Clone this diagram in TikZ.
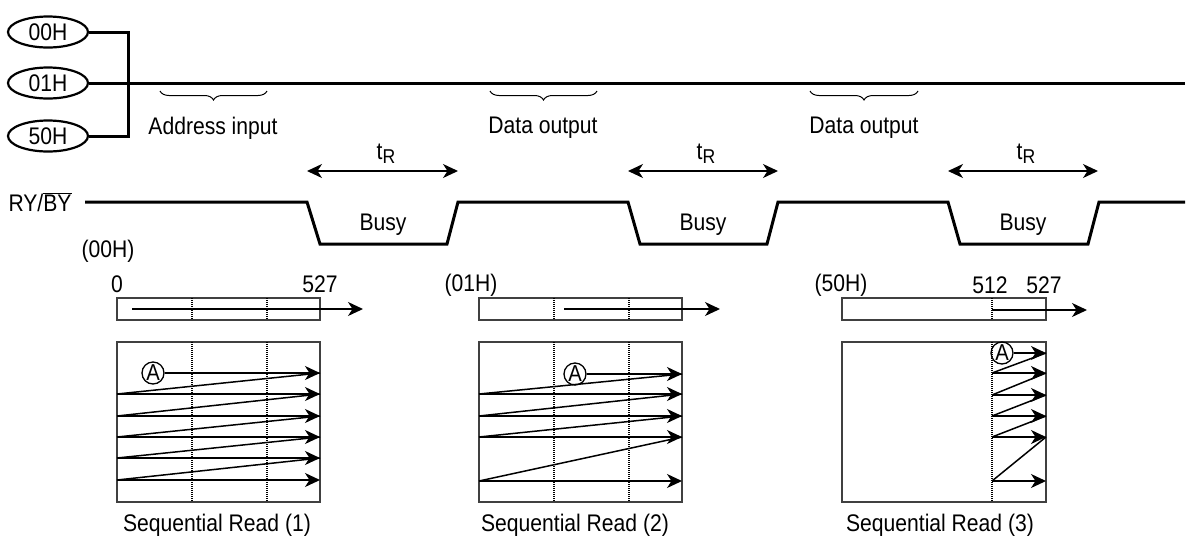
\documentclass[tikz,border=0pt]{standalone}
\usepackage{fontspec}
\setmainfont{Liberation Sans}[FakeStretch=0.88]
\usetikzlibrary{shapes.geometric,arrows.meta,decorations.pathreplacing}
\newcommand{\tRlabel}{t\raisebox{-4pt}{\fontsize{20}{20}\selectfont R}}
\begin{document}
\begin{tikzpicture}[x=1pt,y=-1pt,
  font=\fontsize{24}{28}\selectfont,
  sig/.style={line width=3pt,line join=miter},
  addr/.style={draw,ellipse,line width=2.2pt,minimum width=80pt,minimum height=31pt,inner sep=0pt},
  tip/.style={-{Stealth[length=15pt,width=14pt,inset=4.5pt]}},
  dimarrow/.style={{Stealth[length=15pt,width=14pt,inset=4.5pt]}-{Stealth[length=15pt,width=14pt,inset=4.5pt]},line width=1.5pt},
  rd/.style={line width=1.5pt},
  box/.style={draw=black!75,line width=1.3pt},
  dots/.style={line width=1.2pt,dash pattern=on 1pt off 1pt},
  brc/.style={decorate,decoration={brace,mirror,amplitude=9pt},line width=1pt},
  circA/.style={draw,circle,line width=1.3pt,minimum size=22pt,inner sep=0pt,font=\fontsize{23}{23}\selectfont},
  lbl/.style={inner sep=0pt}
]
\useasboundingbox (0,0) rectangle (1194,542);

% address ellipses and bus
\node[addr] (h00) at (48,32) {00H};
\node[addr] (h01) at (48,83) {01H};
\node[addr] (h50) at (48,136) {50H};
\coordinate (busend) at (1185,83);
\draw[sig] (h00.east) -- ++(39,0) |- (h50.east);
\draw[sig] (h01.east) -- (busend);

% braces
\draw[brc] (160,91) -- (267,91);
\draw[brc] (490,91) -- (597,91);
\draw[brc] (810,91) -- (918,91);
\node[lbl] (ai) at (213,128) {Address input};
\node[lbl] (do1) at (543,128) {Data output};
\node[lbl] (do2) at (864,128) {Data output};

% tR arrows
\coordinate (r1a) at (307,171); \coordinate (r1b) at (458,171);
\coordinate (r2a) at (628,171); \coordinate (r2b) at (778,171);
\coordinate (r3a) at (948,171); \coordinate (r3b) at (1098,171);
\draw[dimarrow] (r1a) -- (r1b);
\draw[dimarrow] (r2a) -- (r2b);
\draw[dimarrow] (r3a) -- (r3b);
\node[lbl] (t1) at (386,154) {\tRlabel};
\node[lbl] (t2) at (706,154) {\tRlabel};
\node[lbl] (t3) at (1026,154) {\tRlabel};

% RY/BY signal
\node[lbl] (ry) at (40,202) {RY/$\overline{\mbox{BY}}$};
\draw[sig] (85,202) -- (307,202) -- (320,244) -- (447,244) -- (458,202)
  -- (628,202) -- (640,244) -- (767,244) -- (778,202)
  -- (948,202) -- (960,244) -- (1088,244) -- (1099,202) -- (1185,202);
\node[lbl] (b1) at (383,225) {Busy};
\node[lbl] (b2) at (703,225) {Busy};
\node[lbl] (b3) at (1023,225) {Busy};

% ---------- group 1
\node[lbl] (g1h) at (108,251) {(00H)};
\node[lbl] (g1z) at (117,284) {0};
\node[lbl] (g1e) at (320,284) {527};
\draw[box] (117,298) rectangle (320,320);
\draw[dots] (192,298) -- (192,320);
\draw[dots] (267,298) -- (267,320);
\draw[rd,tip] (132,309) -- (363,309);
\draw[box] (117,342) rectangle (320,502);
\draw[dots] (192,342) -- (192,502);
\draw[dots] (267,342) -- (267,502);
\node[circA] (a1) at (153,373) {A};
\draw[rd,tip] (a1) -- (320,373);
\foreach \y/\p in {394/373,416/394,437/416,458/437,480/458}{
  \draw[rd,tip] (117,\y) -- (320,\y);
  \draw[rd] (117,\y) -- (320,\p);
}
\node[lbl] (c1) at (217,525) {Sequential Read (1)};

% ---------- group 2
\node[lbl] (g2h) at (471,285) {(01H)};
\draw[box] (479,298) rectangle (682,320);
\draw[dots] (554,298) -- (554,320);
\draw[dots] (629,298) -- (629,320);
\draw[rd,tip] (564,309) -- (720,309);
\draw[box] (479,342) rectangle (682,502);
\draw[dots] (554,342) -- (554,502);
\draw[dots] (629,342) -- (629,502);
\node[circA] (a2) at (575,374) {A};
\draw[rd,tip] (a2) -- (682,374);
\foreach \y/\p in {394/374,416/394,437/416,481/437}{
  \draw[rd,tip] (479,\y) -- (682,\y);
  \draw[rd] (479,\y) -- (682,\p);
}
\node[lbl] (c2) at (575,525) {Sequential Read (2)};

% ---------- group 3
\node[lbl] (g3h) at (841,285) {(50H)};
\node[lbl] (g3a) at (990,285) {512};
\node[lbl] (g3b) at (1044,285) {527};
\draw[box] (842,298) rectangle (1046,320);
\draw[dots] (992,298) -- (992,320);
\draw[rd,tip] (992,310) -- (1087,310);
\draw[box] (842,342) rectangle (1046,502);
\draw[dots] (992,342) -- (992,502);
\node[circA] (a3) at (1002,353) {A};
\draw[rd,tip] (a3) -- (1046,353);
\foreach \y/\p in {373/353,395/373,416/395,437/416,481/437}{
  \draw[rd,tip] (992,\y) -- (1046,\y);
  \draw[rd] (992,\y) -- (1046,\p);
}
\node[lbl] (c3) at (940,525) {Sequential Read (3)};
\end{tikzpicture}
\end{document}
